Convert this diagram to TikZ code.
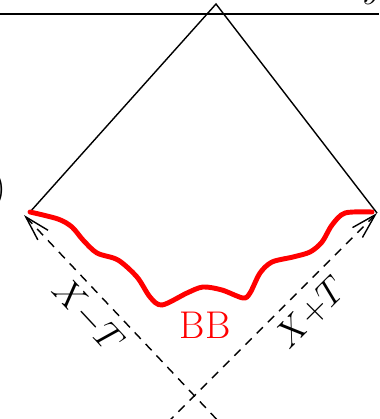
\documentclass[tikz,border=0pt]{standalone}
\usepackage{tikz}
\usetikzlibrary{arrows.meta}

\begin{document}
\begin{tikzpicture}[
  x=0.02cm, y=-0.02cm,
  horizon/.style={line width=1.4pt},
  edge/.style={line width=0.8pt},
  nullray/.style={line width=0.8pt, dash pattern=on 5pt off 4pt, {Straight Barb[length=5mm, width=2.8mm]}-},
  bigbang/.style={red, line width=2.8pt, line cap=round},
  lbl/.style={font=\fontsize{22}{26}\selectfont, inner sep=0pt}
]
\useasboundingbox (0,0) rectangle (379,419);

% Corners of the diagram
\coordinate (top) at (216,4);
\coordinate (lc) at (30,212);
\coordinate (rc) at (377,213);
\coordinate (ltip) at (24,215);
\coordinate (lend) at (222,425);
\coordinate (rend) at (165,425);
\coordinate (hl) at (0,14);
\coordinate (hr) at (379,14);

% Cut-off text at the margins
\node[lbl, anchor=center] (paren) at (-1,190) {)};
\node[lbl, anchor=base] (cut) at (372,-3) {$y$};

% Horizontal line at the top
\draw[horizon] (hl) -- (hr);

% Light cone edges
\draw[edge] (lc) -- (top) -- (rc);

% Null directions
\draw[nullray] (ltip) -- (lend);
\draw[nullray] (rc) -- (rend);

% Big bang
\draw[bigbang] plot[smooth, tension=0.5] coordinates {(30,212) (58,219) (72,227) (83,240) (97,253) (118,260) (137,277) (150,297) (162,305) (187,293) (203,287) (222,290) (243,298) (250,293) (260,273) (272,262) (293,257) (310,252) (322,242) (332,225) (345,213) (372,212)};

% Labels
\node[lbl, red] (bb) at (205,325) {BB};
\node[lbl, rotate=-47] (xmt) at (88,316) {$X{-}T$};
\node[lbl, rotate=45] (xpt) at (311,313) {$X{+}T$};

\end{tikzpicture}
\end{document}
